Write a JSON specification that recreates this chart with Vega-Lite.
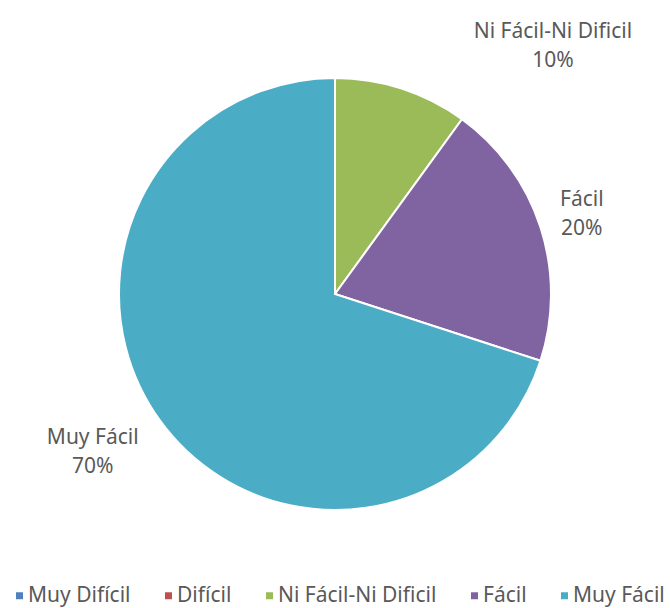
{
  "$schema": "https://vega.github.io/schema/vega-lite/v6.json",
  "width": 670,
  "height": 588,
  "padding": {"left": 0, "top": 0, "right": 0, "bottom": 20},
  "autosize": "none",
  "background": "white",
  "config": {"view": {"stroke": null}},
  "data": {"values": [
    {"category": "Muy Difícil", "value": 0, "order": 1, "label": ""},
    {"category": "Difícil", "value": 0, "order": 2, "label": ""},
    {"category": "Ni Fácil-Ni Dificil", "value": 10, "order": 3, "label": "Ni Fácil-Ni Dificil\n10%"},
    {"category": "Fácil", "value": 20, "order": 4, "label": "Fácil\n20%"},
    {"category": "Muy Fácil", "value": 70, "order": 5, "label": "Muy Fácil\n70%"}
  ]},
  "encoding": {
    "theta": {"field": "value", "type": "quantitative", "stack": true},
    "order": {"field": "order", "type": "quantitative"}
  },
  "layer": [
    {
      "mark": {"type": "arc", "outerRadius": 216, "stroke": "white", "strokeWidth": 2},
      "encoding": {
        "color": {
          "field": "category", "type": "nominal",
          "scale": {
            "domain": ["Muy Difícil", "Difícil", "Ni Fácil-Ni Dificil", "Fácil", "Muy Fácil"],
            "range": ["#4F81BD", "#C0504D", "#9BBB59", "#8064A2", "#4BACC6"]
          },
          "legend": {
            "title": null, "orient": "none", "direction": "horizontal",
            "legendX": 9, "legendY": 585,
            "symbolType": "square", "symbolSize": 49, "symbolStrokeWidth": 0,
            "labelFont": "Noto Sans", "labelFontSize": 21, "labelColor": "#595959",
            "labelOffset": -2, "columnPadding": 27, "labelLimit": 300
          }
        }
      }
    },
    {
      "mark": {"type": "text", "radius": 341, "thetaOffset": 0.379, "font": "Noto Sans", "fontSize": 21, "color": "#595959", "lineBreak": "\n", "lineHeight": 29, "align": "center", "baseline": "middle"},
      "encoding": {
        "text": {"field": "label"},
        "opacity": {"condition": {"test": "datum.category === 'Ni Fácil-Ni Dificil'", "value": 1}, "value": 0}
      }
    },
    {
      "mark": {"type": "text", "radius": 264, "thetaOffset": -0.049, "font": "Noto Sans", "fontSize": 21, "color": "#595959", "lineBreak": "\n", "lineHeight": 29, "align": "center", "baseline": "middle"},
      "encoding": {
        "text": {"field": "label"},
        "opacity": {"condition": {"test": "datum.category === 'Fácil'", "value": 1}, "value": 0}
      }
    },
    {
      "mark": {"type": "text", "radius": 282, "thetaOffset": 0.091, "font": "Noto Sans", "fontSize": 21, "color": "#595959", "lineBreak": "\n", "lineHeight": 29, "align": "center", "baseline": "middle"},
      "encoding": {
        "text": {"field": "label"},
        "opacity": {"condition": {"test": "datum.category === 'Muy Fácil'", "value": 1}, "value": 0}
      }
    }
  ]
}
